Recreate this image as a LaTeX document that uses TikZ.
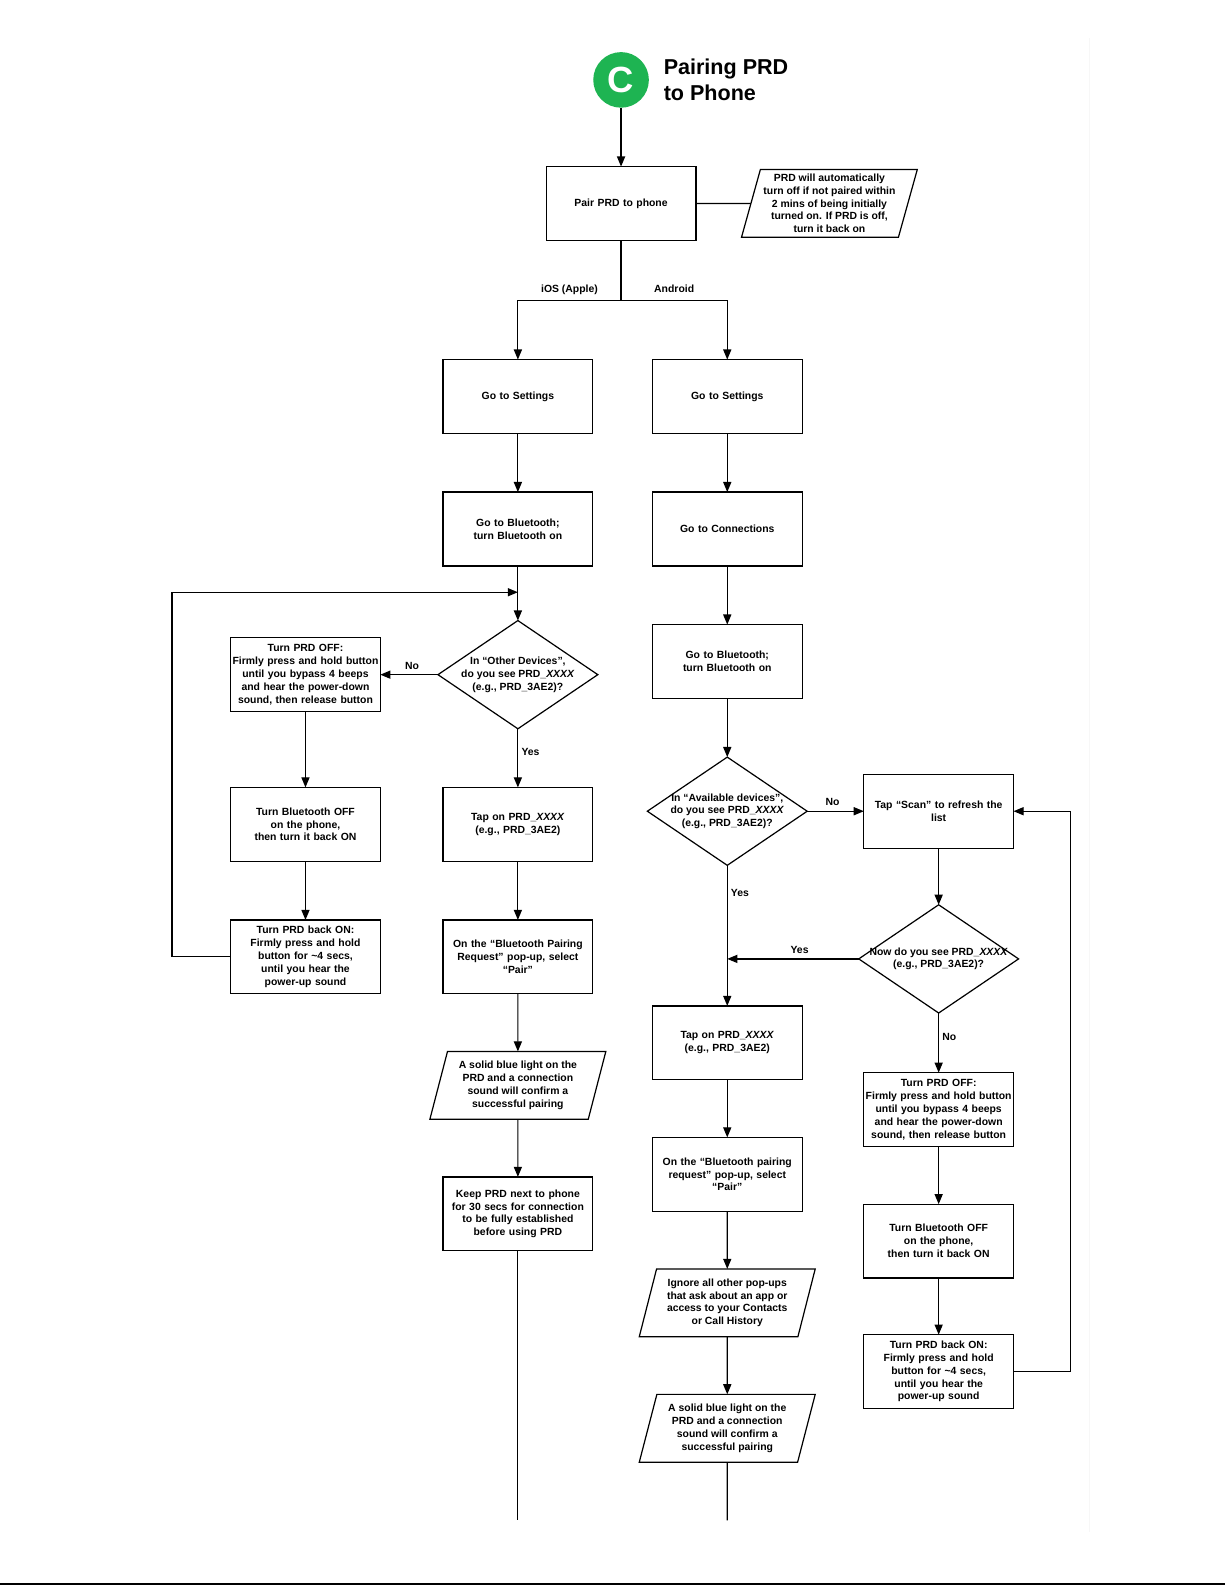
\documentclass[tikz,border=0pt]{standalone}
\usepackage{fontspec}
\setmainfont{Liberation Sans}
\usetikzlibrary{shapes.geometric, arrows.meta, positioning}

\definecolor{startgreen}{RGB}{30,180,82}

\begin{document}
\begin{tikzpicture}[
    x=1pt, y=-1pt,
    font=\fontsize{10.3}{12.7}\selectfont\bfseries,
    box/.style={rectangle, draw, line width=1.2pt, text width=148pt, align=center, minimum width=148pt, minimum height=73pt, inner xsep=0pt, inner ysep=1pt, outer sep=0pt},
    slantbox/.style={trapezium, draw, line width=1.2pt, trapezium left angle=73, trapezium right angle=107, trapezium stretches=true, minimum width=174pt, minimum height=67pt, align=center, inner sep=0pt, outer sep=0pt},
    decision/.style={diamond, draw, line width=1.2pt, minimum width=158pt, minimum height=107pt, align=center, inner sep=-14pt, outer sep=0pt},
    arrow/.style={-{Triangle[length=10pt, width=8pt]}, line width=1.2pt},
    link/.style={line width=1.2pt},
    lbl/.style={inner sep=3pt, text height=1.6ex, text depth=0.3ex}
]
\useasboundingbox (0,0) rectangle (1211,1567);

% Page edges
\draw[gray!6, line width=0.8pt] (1077,38) -- (1077,1515);
\draw[line width=1.5pt] (0,1566) -- (1211,1566);

% Start
\node[circle, fill=startgreen, minimum size=55pt, inner sep=0pt, text=white, font=\fontsize{36}{36}\selectfont\bfseries] (start) at (614,79) {C};
\node[right=11pt of start, align=left, font=\fontsize{21.3}{25}\selectfont\bfseries] (title) {Pairing PRD\\to Phone};

\node[box, below=58pt of start] (pair) {Pair PRD to phone};
\node[slantbox] (note) at (820,201) {PRD will automatically\\turn off if not paired within\\2 mins of being initially\\turned on. If PRD is off,\\turn it back on};

% iOS column
\node[box] (iosset) at (512,392) {Go to Settings};
\node[box, below=58pt of iosset] (iosbt) {Go to Bluetooth;\\turn Bluetooth on};
\node[decision, below=54pt of iosbt] (iosq) {In “Other Devices”,\\do you see PRD\_\textit{XXXX}\\(e.g., PRD\_3AE2)?};
\node[box, left=57pt of iosq] (iosoff) {Turn PRD OFF:\\Firmly press and hold button\\until you bypass 4 beeps\\and hear the power-down\\sound, then release button};
\node[box, below=58pt of iosq] (iostap) {Tap on PRD\_\textit{XXXX}\\(e.g., PRD\_3AE2)};
\node[box] (iosbtoff) at (iosoff |- iostap) {Turn Bluetooth OFF\\on the phone,\\then turn it back ON};
\node[box, below=58pt of iostap] (iospair) {On the “Bluetooth Pairing\\Request” pop-up, select\\“Pair”};
\node[box] (iosbackon) at (iosoff |- iospair) {Turn PRD back ON:\\Firmly press and hold\\button for \textasciitilde4 secs,\\until you hear the\\power-up sound};
\node[slantbox, below=57pt of iospair] (iosok) {A solid blue light on the\\PRD and a connection\\sound will confirm a\\successful pairing};
\node[box, below=57pt of iosok] (ioskeep) {Keep PRD next to phone\\for 30 secs for connection\\to be fully established\\before using PRD};
\coordinate[below=26pt of iosbt] (iosjoin);
\coordinate (iosend) at (512,1503);

% Android column
\node[box] (andset) at (719,392) {Go to Settings};
\node[box, below=58pt of andset] (andcon) {Go to Connections};
\node[box, below=58pt of andcon] (andbt) {Go to Bluetooth;\\turn Bluetooth on};
\node[decision, below=58pt of andbt] (andq) {In “Available devices”,\\do you see PRD\_\textit{XXXX}\\(e.g., PRD\_3AE2)?};
\node[box, right=56pt of andq] (scan) {Tap “Scan” to refresh the\\list};
\node[decision, below=56pt of scan] (nowq) {Now do you see PRD\_\textit{XXXX}\\(e.g., PRD\_3AE2)?};
\node[box, below=139pt of andq] (andtap) {Tap on PRD\_\textit{XXXX}\\(e.g., PRD\_3AE2)};
\node[box, below=59pt of nowq] (andoff) {Turn PRD OFF:\\Firmly press and hold button\\until you bypass 4 beeps\\and hear the power-down\\sound, then release button};
\node[box, below=57pt of andoff] (andbtoff) {Turn Bluetooth OFF\\on the phone,\\then turn it back ON};
\node[box, below=56pt of andbtoff] (andbackon) {Turn PRD back ON:\\Firmly press and hold\\button for \textasciitilde4 secs,\\until you hear the\\power-up sound};
\node[box, below=57pt of andtap] (andpair) {On the “Bluetooth pairing\\request” pop-up, select\\“Pair”};
\node[slantbox, below=57pt of andpair] (andignore) {Ignore all other pop-ups\\that ask about an app or\\access to your Contacts\\or Call History};
\node[slantbox, below=57pt of andignore] (andok) {A solid blue light on the\\PRD and a connection\\sound will confirm a\\successful pairing};
\coordinate (andend) at (719,1503);

% Arrows
\draw[arrow] (start) -- (pair);
\draw[link] (pair.east) -- (note);
\draw[link] (pair.south) -- ++(0,-59pt) coordinate (split);
\draw[arrow] (split) -| node[lbl, above, pos=0.25, yshift=2pt] {iOS (Apple)} (iosset.north);
\draw[arrow] (split) -| node[lbl, above, pos=0.25, yshift=2pt] {Android} (andset.north);

\draw[arrow] (iosset) -- (iosbt);
\draw[arrow] (iosbt) -- (iosq);
\draw[arrow] (iosq) -- node[lbl, above, pos=0.45] {No} (iosoff);
\draw[arrow] (iosoff) -- (iosbtoff);
\draw[arrow] (iosbtoff) -- (iosbackon);
\draw[arrow] (iosbackon.west) -- ++(-58pt,0) |- (iosjoin);
\draw[arrow] (iosq) -- node[lbl, right, pos=0.4] {Yes} (iostap);
\draw[arrow] (iostap) -- (iospair);
\draw[arrow] (iospair) -- (iosok);
\draw[arrow] (iosok) -- (ioskeep);
\draw[link] (ioskeep) -- (iosend);

\draw[arrow] (andset) -- (andcon);
\draw[arrow] (andcon) -- (andbt);
\draw[arrow] (andbt) -- (andq);
\draw[arrow] (andq) -- node[lbl, above, pos=0.45] {No} (scan);
\draw[arrow] (scan) -- (nowq);
\draw[arrow] (andq) -- node[lbl, right, pos=0.2] {Yes} (andtap);
\draw[arrow] (nowq.west) -- node[lbl, above, pos=0.45] {Yes} (nowq.west -| andq);
\draw[arrow] (nowq) -- node[lbl, right, pos=0.4] {No} (andoff);
\draw[arrow] (andoff) -- (andbtoff);
\draw[arrow] (andbtoff) -- (andbackon);
\draw[arrow] (andbackon.east) -- ++(56pt,0) |- (scan.east);
\draw[arrow] (andtap) -- (andpair);
\draw[arrow] (andpair) -- (andignore);
\draw[arrow] (andignore) -- (andok);
\draw[link] (andok) -- (andend);

\end{tikzpicture}
\end{document}
